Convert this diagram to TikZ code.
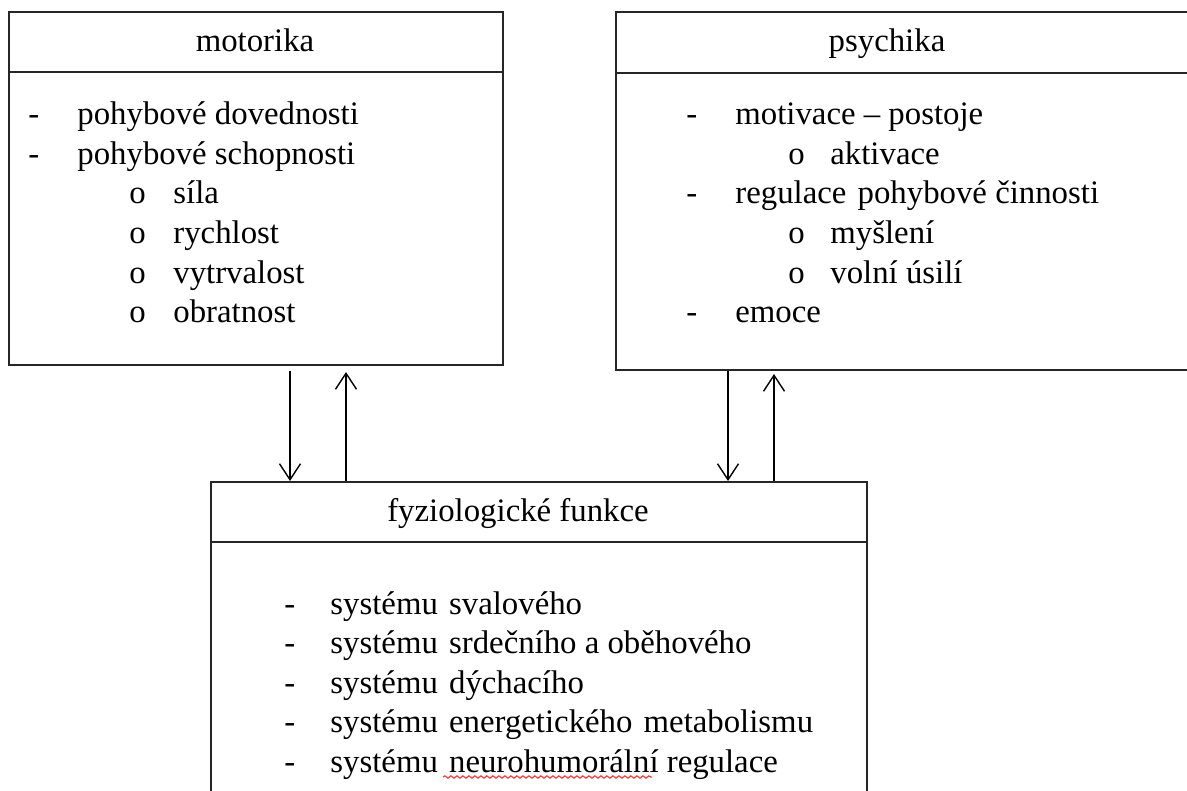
\documentclass[tikz,border=0pt]{standalone}
\usepackage{fontspec}
\setmainfont{Liberation Serif}
\usetikzlibrary{arrows.meta,decorations.pathmorphing}

\begin{document}
\begin{tikzpicture}[x=0.5pt,y=-0.5pt,
    box/.style={draw=black!85, line width=1pt, anchor=north west, inner sep=0pt},
    txt/.style={anchor=base west, inner sep=0pt, font=\fontsize{16.4}{20}\selectfont},
    head/.style={anchor=base, inner sep=0pt, font=\fontsize{16.4}{20}\selectfont},
    arr/.style={line width=0.7pt, -{Straight Barb[length=8pt,width=10.5pt]}}]

  \useasboundingbox (0,0) rectangle (1187,791);

  % boxes
  \node[box, minimum width=247pt, minimum height=176.5pt] (mot) at (8,11) {};
  \node[box, minimum width=292.5pt, minimum height=179pt] (psy) at (615,11) {};
  \node[box, minimum width=328pt, minimum height=159.5pt] (fyz) at (210,481) {};

  \draw[line width=1pt, black!85] ([yshift=-30.75pt]mot.north west) -- ([yshift=-30.75pt]mot.north east);
  \draw[line width=1pt, black!85] ([yshift=-31pt]psy.north west) -- ([yshift=-31pt]psy.north east);
  \draw[line width=1pt, black!85] ([yshift=-30.25pt]fyz.north west) -- ([yshift=-30.25pt]fyz.north east);

  % headers
  \node[head] (hmot) at (255,51.5) {motorika};
  \node[head] (hpsy) at (887,51.5) {psychika};
  \node[head] (hfyz) at (518,521) {fyziologické funkce};

  % motorika
  \foreach \bx/\tx/\b/\t [count=\i] in {28/77/-/pohybové dovednosti, 28/77/-/pohybové schopnosti,
      129/173/o/síla, 129/173/o/rychlost, 129/173/o/vytrvalost, 129/173/o/obratnost} {
    \node[txt] (mb\i) at (\bx,{85.5+39.5*\i}) {\b};
    \node[txt] (mt\i) at (\tx,{85.5+39.5*\i}) {\t};
  }

  % psychika
  \foreach \bx/\tx/\b/\t [count=\i] in {686/735/-/motivace – postoje, 788/830/o/aktivace,
      686/735/-/regulace\hspace{1.5pt} pohybové činnosti, 788/830/o/myšlení, 788/830/o/volní úsilí, 686/735/-/emoce} {
    \node[txt] (pb\i) at (\bx,{85.5+39.5*\i}) {\b};
    \node[txt] (pt\i) at (\tx,{85.5+39.5*\i}) {\t};
  }

  % fyziologicke funkce
  \foreach \t [count=\i] in {systému\hspace{1.5pt} svalového, systému\hspace{1.5pt} srdečního a oběhového, systému\hspace{1.5pt} dýchacího,
      systému\hspace{1.5pt} energetického\hspace{1.5pt} metabolismu, systému\hspace{1.5pt} neurohumorální regulace} {
    \node[txt] (fb\i) at (284,{574.5+39.5*\i}) {-};
    \node[txt] (ft\i) at (330,{574.5+39.5*\i}) {\t};
  }
  \draw[red!85, line width=0.5pt, decorate, decoration={snake, amplitude=0.6pt, segment length=3pt}]
    (443,777) -- (652,777);

  % arrows
  \coordinate (xa) at (290,0);
  \coordinate (xb) at (346,0);
  \coordinate (xc) at (728,0);
  \coordinate (xd) at (774,0);
  \draw[arr, shorten <=2.5pt] (mot.south -| xa) -- (fyz.north -| xa);
  \draw[arr, shorten >=3pt] (fyz.north -| xb) -- (mot.south -| xb);
  \draw[arr] (psy.south -| xc) -- (fyz.north -| xc);
  \draw[arr, shorten >=1.5pt] (fyz.north -| xd) -- (psy.south -| xd);
\end{tikzpicture}
\end{document}
